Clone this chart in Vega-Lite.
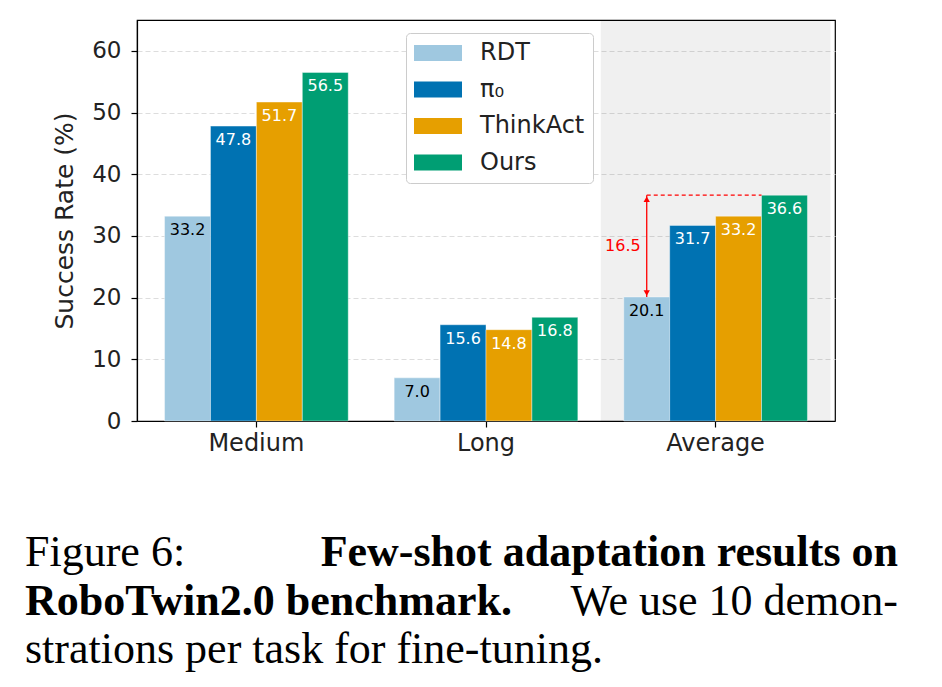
{
  "$schema": "https://vega.github.io/schema/vega-lite/v6.json",
  "width": 698,
  "height": 401,
  "autosize": {"type": "none"},
  "padding": {"left": 137, "top": 20, "right": 107, "bottom": 266},
  "background": "white",
  "config": {
    "view": {"stroke": "black", "strokeWidth": 1.2},
    "font": "DejaVu Sans",
    "axis": {"domainColor": "black", "tickColor": "black", "domainWidth": 1.2, "tickWidth": 1.2, "labelColor": "#222222", "titleColor": "#222222", "labelFont": "DejaVu Sans", "titleFont": "DejaVu Sans"}
  },
  "datasets": {
    "bars": [
      {"group": "Medium", "model": "RDT", "value": 33.2},
      {"group": "Medium", "model": "π₀", "value": 47.8},
      {"group": "Medium", "model": "ThinkAct", "value": 51.7},
      {"group": "Medium", "model": "Ours", "value": 56.5},
      {"group": "Long", "model": "RDT", "value": 7.0},
      {"group": "Long", "model": "π₀", "value": 15.6},
      {"group": "Long", "model": "ThinkAct", "value": 14.8},
      {"group": "Long", "model": "Ours", "value": 16.8},
      {"group": "Average", "model": "RDT", "value": 20.1},
      {"group": "Average", "model": "π₀", "value": 31.7},
      {"group": "Average", "model": "ThinkAct", "value": 33.2},
      {"group": "Average", "model": "Ours", "value": 36.6}
    ],
    "shade": [{"group": "Average", "lo": 0, "hi": 65}],
    "annot": [{"group": "Average", "model": "RDT", "low": 20.1, "high": 36.6, "gap": "16.5"}],
    "guide": [{"from": 1.7, "to": 2.2, "level": 36.6}],
    "caption": [
      {"line": 1, "side": "left", "weight": "normal", "text": "Figure 6:"},
      {"line": 1, "side": "right", "weight": "bold", "text": "Few-shot adaptation results on"},
      {"line": 2, "side": "left", "weight": "bold", "text": "RoboTwin2.0 benchmark."},
      {"line": 2, "side": "right", "weight": "normal", "text": "We use 10 demon-"},
      {"line": 3, "side": "left", "weight": "normal", "text": "strations per task for fine-tuning."}
    ]
  },
  "resolve": {"scale": {"x": "independent", "y": "independent", "xOffset": "independent"}},
  "layer": [
    {
      "data": {"name": "shade"},
      "mark": {"type": "bar", "width": {"band": 1.25}, "fill": "black", "opacity": 0.06},
      "encoding": {
        "x": {"field": "group", "type": "nominal", "scale": {"type": "band", "domain": ["Medium", "Long", "Average"], "paddingInner": 0.2, "paddingOuter": 0.12}, "axis": null},
        "y": {"field": "lo", "type": "quantitative", "scale": {"domain": [0, 65], "nice": false, "zero": true}, "axis": null},
        "y2": {"field": "hi"}
      }
    },
    {
      "data": {"name": "bars"},
      "mark": {"type": "bar", "stroke": "white", "strokeWidth": 0.8, "strokeOpacity": 0.5},
      "encoding": {
        "x": {"field": "group", "type": "nominal", "scale": {"type": "band", "domain": ["Medium", "Long", "Average"], "paddingInner": 0.2, "paddingOuter": 0.12},
          "axis": {"orient": "bottom", "title": null, "labelFontSize": 24, "labelAngle": 0, "tickSize": 6, "labelPadding": 4, "grid": false}},
        "xOffset": {"field": "model", "type": "nominal", "scale": {"type": "band", "domain": ["RDT", "π₀", "ThinkAct", "Ours"], "paddingInner": 0, "paddingOuter": 0}},
        "y": {"field": "value", "type": "quantitative", "scale": {"domain": [0, 65], "nice": false, "zero": true},
          "axis": {"orient": "left", "title": "Success Rate (%)", "values": [0, 10, 20, 30, 40, 50, 60], "labelFontSize": 23, "titleFontSize": 25, "titleFontWeight": "normal", "tickSize": 6, "labelPadding": 10, "titlePadding": 14, "grid": true, "gridColor": "#dddddd", "gridDash": [5, 3], "gridWidth": 1}},
        "color": {"field": "model", "type": "nominal",
          "scale": {"domain": ["RDT", "π₀", "ThinkAct", "Ours"], "range": ["#9fc8e0", "#0072b2", "#e69f00", "#009e73"]},
          "legend": {"orient": "none", "legendX": 269, "legendY": 13, "title": null, "labelFontSize": 24, "labelFont": "DejaVu Sans", "labelColor": "#222222",
            "symbolType": "M-2,-0.667H2V0.667H-2Z", "symbolSize": 576, "symbolOffset": 12, "symbolStrokeWidth": 0, "symbolOpacity": 1, "labelOffset": 30, "rowPadding": 12.5,
            "padding": 8, "strokeColor": "#cccccc", "fillColor": "white", "cornerRadius": 4}}
      }
    },
    {
      "data": {"name": "bars"},
      "mark": {"type": "text", "baseline": "top", "dy": 6, "fontSize": 16, "font": "DejaVu Sans"},
      "encoding": {
        "x": {"field": "group", "type": "nominal", "scale": {"type": "band", "domain": ["Medium", "Long", "Average"], "paddingInner": 0.2, "paddingOuter": 0.12}, "axis": null},
        "xOffset": {"field": "model", "type": "nominal", "scale": {"type": "band", "domain": ["RDT", "π₀", "ThinkAct", "Ours"], "paddingInner": 0, "paddingOuter": 0}},
        "y": {"field": "value", "type": "quantitative", "scale": {"domain": [0, 65], "nice": false, "zero": true}, "axis": null},
        "text": {"field": "value", "type": "quantitative", "format": ".1f"},
        "color": {"condition": {"test": "datum.model === 'RDT'", "value": "black"}, "value": "white"}
      }
    },
    {
      "data": {"name": "annot"},
      "mark": {"type": "rule", "color": "red", "strokeWidth": 1.3},
      "encoding": {
        "x": {"field": "group", "type": "nominal", "scale": {"type": "band", "domain": ["Medium", "Long", "Average"], "paddingInner": 0.2, "paddingOuter": 0.12}, "axis": null},
        "xOffset": {"field": "model", "type": "nominal", "scale": {"type": "band", "domain": ["RDT", "π₀", "ThinkAct", "Ours"], "paddingInner": 0, "paddingOuter": 0}},
        "y": {"field": "low", "type": "quantitative", "scale": {"domain": [0, 65], "nice": false, "zero": true}, "axis": null},
        "y2": {"field": "high"}
      }
    },
    {
      "data": {"name": "annot"},
      "mark": {"type": "point", "shape": "triangle-up", "filled": true, "color": "red", "opacity": 1, "size": 40, "yOffset": 4},
      "encoding": {
        "x": {"field": "group", "type": "nominal", "scale": {"type": "band", "domain": ["Medium", "Long", "Average"], "paddingInner": 0.2, "paddingOuter": 0.12}, "axis": null},
        "xOffset": {"field": "model", "type": "nominal", "scale": {"type": "band", "domain": ["RDT", "π₀", "ThinkAct", "Ours"], "paddingInner": 0, "paddingOuter": 0}},
        "y": {"field": "high", "type": "quantitative", "scale": {"domain": [0, 65], "nice": false, "zero": true}, "axis": null}
      }
    },
    {
      "data": {"name": "annot"},
      "mark": {"type": "point", "shape": "triangle-down", "filled": true, "color": "red", "opacity": 1, "size": 40, "yOffset": -4},
      "encoding": {
        "x": {"field": "group", "type": "nominal", "scale": {"type": "band", "domain": ["Medium", "Long", "Average"], "paddingInner": 0.2, "paddingOuter": 0.12}, "axis": null},
        "xOffset": {"field": "model", "type": "nominal", "scale": {"type": "band", "domain": ["RDT", "π₀", "ThinkAct", "Ours"], "paddingInner": 0, "paddingOuter": 0}},
        "y": {"field": "low", "type": "quantitative", "scale": {"domain": [0, 65], "nice": false, "zero": true}, "axis": null}
      }
    },
    {
      "data": {"name": "annot"},
      "transform": [{"calculate": "(datum.low + datum.high) / 2", "as": "mid"}],
      "mark": {"type": "text", "color": "red", "fontSize": 16, "font": "DejaVu Sans", "align": "right", "baseline": "middle", "dx": -6},
      "encoding": {
        "x": {"field": "group", "type": "nominal", "scale": {"type": "band", "domain": ["Medium", "Long", "Average"], "paddingInner": 0.2, "paddingOuter": 0.12}, "axis": null},
        "xOffset": {"field": "model", "type": "nominal", "scale": {"type": "band", "domain": ["RDT", "π₀", "ThinkAct", "Ours"], "paddingInner": 0, "paddingOuter": 0}},
        "y": {"field": "mid", "type": "quantitative", "scale": {"domain": [0, 65], "nice": false, "zero": true}, "axis": null},
        "text": {"field": "gap"}
      }
    },
    {
      "data": {"name": "guide"},
      "mark": {"type": "rule", "color": "red", "strokeDash": [4, 3], "strokeWidth": 1.2},
      "encoding": {
        "x": {"field": "from", "type": "quantitative", "scale": {"domain": [-0.52, 2.52], "nice": false, "zero": false}, "axis": null},
        "x2": {"field": "to"},
        "y": {"field": "level", "type": "quantitative", "scale": {"domain": [0, 65], "nice": false, "zero": true}, "axis": null}
      }
    },
    {
      "data": {"name": "caption"},
      "transform": [{"filter": "datum.side === 'left' && datum.weight === 'normal'"}],
      "mark": {"type": "text", "font": "Liberation Serif", "fontSize": 44, "fontWeight": "normal", "align": "left", "baseline": "middle", "color": "black"},
      "encoding": {
        "x": {"field": "side", "type": "nominal", "scale": {"type": "point", "domain": ["left", "right"], "range": [-112, 761], "padding": 0}, "axis": null},
        "y": {"field": "line", "type": "ordinal", "scale": {"type": "point", "domain": [1, 2, 3], "range": [533, 630], "padding": 0}, "axis": null},
        "text": {"field": "text"}
      }
    },
    {
      "data": {"name": "caption"},
      "transform": [{"filter": "datum.side === 'left' && datum.weight === 'bold'"}],
      "mark": {"type": "text", "font": "Liberation Serif", "fontSize": 44, "fontWeight": "bold", "align": "left", "baseline": "middle", "color": "black"},
      "encoding": {
        "x": {"field": "side", "type": "nominal", "scale": {"type": "point", "domain": ["left", "right"], "range": [-112, 761], "padding": 0}, "axis": null},
        "y": {"field": "line", "type": "ordinal", "scale": {"type": "point", "domain": [1, 2, 3], "range": [533, 630], "padding": 0}, "axis": null},
        "text": {"field": "text"}
      }
    },
    {
      "data": {"name": "caption"},
      "transform": [{"filter": "datum.side === 'right' && datum.weight === 'normal'"}],
      "mark": {"type": "text", "font": "Liberation Serif", "fontSize": 44, "fontWeight": "normal", "align": "right", "baseline": "middle", "color": "black"},
      "encoding": {
        "x": {"field": "side", "type": "nominal", "scale": {"type": "point", "domain": ["left", "right"], "range": [-112, 761], "padding": 0}, "axis": null},
        "y": {"field": "line", "type": "ordinal", "scale": {"type": "point", "domain": [1, 2, 3], "range": [533, 630], "padding": 0}, "axis": null},
        "text": {"field": "text"}
      }
    },
    {
      "data": {"name": "caption"},
      "transform": [{"filter": "datum.side === 'right' && datum.weight === 'bold'"}],
      "mark": {"type": "text", "font": "Liberation Serif", "fontSize": 44, "fontWeight": "bold", "align": "right", "baseline": "middle", "color": "black"},
      "encoding": {
        "x": {"field": "side", "type": "nominal", "scale": {"type": "point", "domain": ["left", "right"], "range": [-112, 761], "padding": 0}, "axis": null},
        "y": {"field": "line", "type": "ordinal", "scale": {"type": "point", "domain": [1, 2, 3], "range": [533, 630], "padding": 0}, "axis": null},
        "text": {"field": "text"}
      }
    }
  ]
}
